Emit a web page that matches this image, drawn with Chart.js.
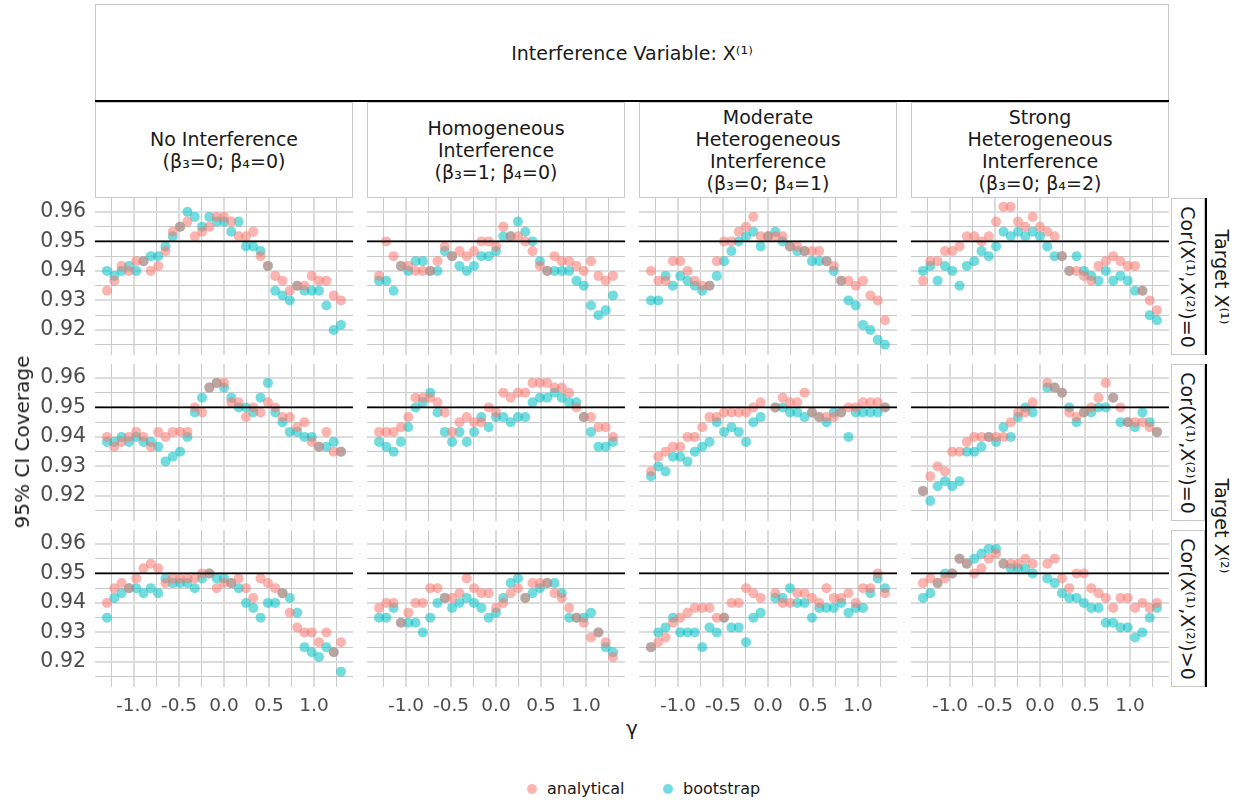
<!DOCTYPE html>
<html>
<head>
<meta charset="utf-8">
<script src="https://cdn.jsdelivr.net/npm/chart.js@4.4.1/dist/chart.umd.min.js"></script>
<style>
  body { margin: 0; background: #fff; font-family: "DejaVu Sans", sans-serif; color: #1a1a1a; }
  #wrap { position: relative; width: 1239px; height: 803px; overflow: hidden; }
  canvas { position: absolute; }
  .strip { position: absolute; box-sizing: border-box; border: 1px solid #c8c8c8;
           display: flex; align-items: center; justify-content: center; text-align: center;
           font-size: 19px; line-height: 22px; color: #1a1a1a; }
  .rot { transform: rotate(90deg); white-space: nowrap; }
  .nestline { position: absolute; background: #000; }
  .lab { position: absolute; white-space: nowrap; color: #1a1a1a; }
  .dot { position: absolute; width: 10px; height: 10px; border-radius: 50%; }
</style>
</head>
<body>
<div id="wrap"></div>
<script>
// gamma grid (x positions of the points)
const gamma = [-1.3, -1.219, -1.138, -1.056, -0.975, -0.894, -0.813, -0.731, -0.65, -0.569, -0.488,
  -0.406, -0.325, -0.244, -0.163, -0.081, 0, 0.081, 0.163, 0.244, 0.325, 0.406, 0.488, 0.569,
  0.65, 0.731, 0.813, 0.894, 0.975, 1.056, 1.138, 1.219, 1.3];

const colLabels = [
  ['No Interference', '(β\u2083=0; β\u2084=0)'],
  ['Homogeneous', 'Interference', '(β\u2083=1; β\u2084=0)'],
  ['Moderate', 'Heterogeneous', 'Interference', '(β\u2083=0; β\u2084=1)'],
  ['Strong', 'Heterogeneous', 'Interference', '(β\u2083=0; β\u2084=2)']
];
const rowLabels = ['Cor(X\u207D\u00B9\u207E,X\u207D\u00B2\u207E)=0', 'Cor(X\u207D\u00B9\u207E,X\u207D\u00B2\u207E)=0', 'Cor(X\u207D\u00B9\u207E,X\u207D\u00B2\u207E)>0'];
const targetLabels = ['Target X\u207D\u00B9\u207E', 'Target X\u207D\u00B2\u207E'];
const seriesNames = ['analytical', 'bootstrap'];

// row 1: Target X(1), Cor = 0
const ana11 = [0.9333, 0.9367, 0.9417, 0.9400, 0.9433, 0.9433, 0.9400, 0.9417, 0.9467, 0.9533, 0.9550, 0.9567, 0.9517, 0.9533, 0.9550, 0.9583, 0.9583, 0.9567, 0.9517, 0.9517, 0.9533, 0.9450, 0.9417, 0.9383, 0.9367, 0.9333, 0.9350, 0.9350, 0.9383, 0.9367, 0.9367, 0.9317, 0.9300];
const boot11 = [0.9400, 0.9383, 0.9400, 0.9417, 0.9400, 0.9433, 0.9450, 0.9450, 0.9483, 0.9517, 0.9550, 0.9600, 0.9583, 0.9550, 0.9583, 0.9567, 0.9567, 0.9533, 0.9567, 0.9483, 0.9483, 0.9467, 0.9417, 0.9333, 0.9317, 0.9300, 0.9350, 0.9333, 0.9333, 0.9333, 0.9283, 0.9200, 0.9217];
const ana12 = [0.9383, 0.9500, 0.9450, 0.9417, 0.9417, 0.9400, 0.9400, 0.9400, 0.9433, 0.9483, 0.9450, 0.9467, 0.9450, 0.9467, 0.9500, 0.9500, 0.9483, 0.9550, 0.9517, 0.9517, 0.9500, 0.9467, 0.9417, 0.9400, 0.9450, 0.9433, 0.9433, 0.9417, 0.9400, 0.9433, 0.9383, 0.9367, 0.9383];
const boot12 = [0.9367, 0.9367, 0.9333, 0.9417, 0.9400, 0.9433, 0.9433, 0.9400, 0.9400, 0.9467, 0.9450, 0.9417, 0.9400, 0.9417, 0.9450, 0.9450, 0.9467, 0.9517, 0.9517, 0.9567, 0.9533, 0.9500, 0.9433, 0.9400, 0.9400, 0.9400, 0.9400, 0.9367, 0.9350, 0.9283, 0.9250, 0.9267, 0.9317];
const ana13 = [0.9400, 0.9367, 0.9367, 0.9433, 0.9433, 0.9400, 0.9367, 0.9350, 0.9350, 0.9433, 0.9500, 0.9500, 0.9533, 0.9550, 0.9583, 0.9517, 0.9517, 0.9517, 0.9517, 0.9483, 0.9483, 0.9467, 0.9467, 0.9467, 0.9433, 0.9417, 0.9367, 0.9367, 0.9350, 0.9367, 0.9317, 0.9300, 0.9233];
const boot13 = [0.9300, 0.9300, 0.9383, 0.9350, 0.9383, 0.9367, 0.9350, 0.9333, 0.9350, 0.9383, 0.9433, 0.9467, 0.9500, 0.9517, 0.9533, 0.9483, 0.9517, 0.9533, 0.9500, 0.9483, 0.9467, 0.9467, 0.9433, 0.9433, 0.9433, 0.9400, 0.9367, 0.9300, 0.9283, 0.9217, 0.9200, 0.9167, 0.9150];
const ana14 = [0.9367, 0.9433, 0.9433, 0.9467, 0.9467, 0.9483, 0.9517, 0.9517, 0.9500, 0.9517, 0.9567, 0.9617, 0.9617, 0.9567, 0.9550, 0.9583, 0.9550, 0.9533, 0.9517, 0.9450, 0.9400, 0.9400, 0.9383, 0.9367, 0.9417, 0.9433, 0.9450, 0.9433, 0.9417, 0.9417, 0.9333, 0.9300, 0.9267];
const boot14 = [0.9400, 0.9417, 0.9367, 0.9417, 0.9400, 0.9350, 0.9417, 0.9433, 0.9467, 0.9450, 0.9483, 0.9533, 0.9517, 0.9533, 0.9517, 0.9533, 0.9517, 0.9483, 0.9450, 0.9450, 0.9400, 0.9450, 0.9400, 0.9383, 0.9367, 0.9400, 0.9367, 0.9383, 0.9367, 0.9333, 0.9333, 0.9250, 0.9233];

// row 2: Target X(2), Cor = 0
const ana21 = [0.9400, 0.9367, 0.9383, 0.9400, 0.9417, 0.9400, 0.9367, 0.9417, 0.9400, 0.9417, 0.9417, 0.9417, 0.9500, 0.9483, 0.9567, 0.9583, 0.9583, 0.9517, 0.9517, 0.9467, 0.9500, 0.9483, 0.9517, 0.9500, 0.9467, 0.9467, 0.9433, 0.9450, 0.9383, 0.9367, 0.9417, 0.9350, 0.9350];
const boot21 = [0.9383, 0.9383, 0.9400, 0.9383, 0.9400, 0.9383, 0.9383, 0.9367, 0.9317, 0.9333, 0.9350, 0.9400, 0.9483, 0.9533, 0.9567, 0.9583, 0.9567, 0.9533, 0.9500, 0.9500, 0.9483, 0.9533, 0.9583, 0.9483, 0.9450, 0.9417, 0.9417, 0.9400, 0.9400, 0.9367, 0.9367, 0.9383, 0.9350];
const ana22 = [0.9417, 0.9417, 0.9417, 0.9433, 0.9467, 0.9533, 0.9533, 0.9533, 0.9517, 0.9483, 0.9417, 0.9450, 0.9467, 0.9450, 0.9450, 0.9500, 0.9483, 0.9550, 0.9533, 0.9550, 0.9550, 0.9583, 0.9583, 0.9583, 0.9567, 0.9567, 0.9550, 0.9500, 0.9467, 0.9467, 0.9433, 0.9433, 0.9400];
const boot22 = [0.9383, 0.9367, 0.9350, 0.9383, 0.9433, 0.9500, 0.9517, 0.9550, 0.9483, 0.9417, 0.9383, 0.9417, 0.9383, 0.9417, 0.9467, 0.9433, 0.9467, 0.9467, 0.9450, 0.9467, 0.9467, 0.9517, 0.9533, 0.9533, 0.9550, 0.9533, 0.9517, 0.9517, 0.9467, 0.9417, 0.9367, 0.9367, 0.9383];
const ana23 = [0.9283, 0.9333, 0.9350, 0.9367, 0.9367, 0.9400, 0.9400, 0.9433, 0.9467, 0.9467, 0.9483, 0.9483, 0.9483, 0.9483, 0.9500, 0.9517, null, 0.9500, 0.9533, 0.9517, 0.9517, 0.9550, 0.9483, 0.9467, 0.9467, 0.9467, 0.9483, 0.9500, 0.9500, 0.9517, 0.9517, 0.9517, 0.9500];
const boot23 = [0.9267, 0.9300, 0.9283, 0.9333, 0.9333, 0.9317, 0.9350, 0.9367, 0.9383, 0.9450, 0.9417, 0.9433, 0.9417, 0.9383, 0.9450, 0.9467, null, 0.9500, 0.9500, 0.9483, 0.9483, 0.9467, 0.9483, 0.9467, 0.9450, 0.9483, 0.9483, 0.9400, 0.9483, 0.9483, 0.9483, 0.9483, 0.9500];
const ana24 = [0.9217, 0.9267, 0.9300, 0.9283, 0.9350, 0.9350, 0.9383, 0.9400, 0.9400, 0.9400, 0.9400, 0.9400, 0.9450, 0.9483, 0.9483, 0.9517, null, 0.9583, 0.9567, 0.9550, 0.9483, 0.9467, 0.9483, 0.9500, 0.9533, 0.9583, 0.9533, 0.9500, 0.9450, 0.9450, 0.9450, 0.9433, 0.9417];
const boot24 = [0.9217, 0.9183, 0.9233, 0.9250, 0.9233, 0.9250, 0.9350, 0.9350, 0.9367, 0.9400, 0.9383, 0.9433, 0.9400, 0.9467, 0.9500, 0.9483, null, 0.9567, 0.9567, 0.9550, 0.9500, 0.9450, 0.9483, 0.9483, 0.9500, 0.9500, 0.9533, 0.9450, 0.9450, 0.9433, 0.9483, 0.9450, 0.9417];

// row 3: Target X(2), Cor > 0
const ana31 = [0.9400, 0.9450, 0.9467, 0.9450, 0.9483, 0.9517, 0.9533, 0.9517, 0.9467, 0.9483, 0.9483, 0.9483, 0.9483, 0.9500, 0.9500, 0.9450, 0.9467, 0.9467, 0.9483, 0.9450, 0.9417, 0.9483, 0.9467, 0.9450, 0.9433, 0.9367, 0.9317, 0.9300, 0.9300, 0.9267, 0.9300, 0.9233, 0.9267];
const boot31 = [0.9350, 0.9417, 0.9433, 0.9450, 0.9450, 0.9433, 0.9450, 0.9433, 0.9483, 0.9467, 0.9467, 0.9467, 0.9450, 0.9483, 0.9500, 0.9483, 0.9483, 0.9467, 0.9450, 0.9400, 0.9383, 0.9350, 0.9400, 0.9400, 0.9433, 0.9417, 0.9367, 0.9250, 0.9233, 0.9217, 0.9250, 0.9233, 0.9167];
const ana32 = [0.9383, 0.9400, 0.9400, 0.9333, 0.9367, 0.9400, 0.9400, 0.9450, 0.9450, 0.9417, 0.9417, 0.9433, 0.9483, 0.9450, 0.9433, 0.9433, 0.9383, 0.9400, 0.9433, 0.9450, 0.9417, 0.9467, 0.9467, 0.9467, 0.9433, 0.9417, 0.9383, 0.9350, 0.9333, 0.9283, 0.9300, 0.9267, 0.9217];
const boot32 = [0.9350, 0.9350, 0.9383, 0.9333, 0.9333, 0.9333, 0.9300, 0.9350, 0.9400, 0.9417, 0.9383, 0.9400, 0.9417, 0.9400, 0.9383, 0.9350, 0.9367, 0.9417, 0.9467, 0.9483, 0.9417, 0.9433, 0.9450, 0.9467, 0.9467, 0.9433, 0.9350, 0.9350, 0.9350, 0.9367, 0.9300, 0.9250, 0.9233];
const ana33 = [0.9250, 0.9267, 0.9283, 0.9333, 0.9350, 0.9367, 0.9383, 0.9383, 0.9383, 0.9350, 0.9350, 0.9400, 0.9400, 0.9450, 0.9433, 0.9417, null, 0.9433, 0.9400, 0.9400, 0.9433, 0.9433, 0.9417, 0.9400, 0.9450, 0.9417, 0.9417, 0.9433, 0.9400, 0.9450, 0.9450, 0.9500, 0.9433];
const boot33 = [0.9250, 0.9300, 0.9317, 0.9350, 0.9300, 0.9300, 0.9300, 0.9250, 0.9317, 0.9300, 0.9350, 0.9317, 0.9317, 0.9267, 0.9350, 0.9367, null, 0.9417, 0.9417, 0.9450, 0.9400, 0.9400, 0.9350, 0.9383, 0.9383, 0.9383, 0.9400, 0.9367, 0.9383, 0.9383, 0.9433, 0.9483, 0.9450];
const ana34 = [0.9467, 0.9483, 0.9467, 0.9483, 0.9500, 0.9550, 0.9533, 0.9500, 0.9517, 0.9550, 0.9567, 0.9533, 0.9533, 0.9533, 0.9550, 0.9533, null, 0.9533, 0.9550, 0.9483, 0.9450, 0.9500, 0.9500, 0.9450, 0.9433, 0.9417, 0.9383, 0.9417, 0.9417, 0.9383, 0.9400, 0.9383, 0.9400];
const boot34 = [0.9417, 0.9433, 0.9467, 0.9500, 0.9500, 0.9550, 0.9533, 0.9550, 0.9567, 0.9583, 0.9583, 0.9533, 0.9517, 0.9517, 0.9517, 0.9500, null, 0.9483, 0.9467, 0.9433, 0.9417, 0.9417, 0.9400, 0.9383, 0.9383, 0.9333, 0.9333, 0.9317, 0.9317, 0.9283, 0.9300, 0.9350, 0.9383];

const xTicks = [-1.25, -1, -0.75, -0.5, -0.25, 0, 0.25, 0.5, 0.75, 1, 1.25];
const yTicks = [0.915, 0.92, 0.925, 0.93, 0.935, 0.94, 0.945, 0.95, 0.955, 0.96];
const nominal = 0.95;

const panels = [
  [ana11, boot11], [ana12, boot12], [ana13, boot13], [ana14, boot14],
  [ana21, boot21], [ana22, boot22], [ana23, boot23], [ana24, boot24],
  [ana31, boot31], [ana32, boot32], [ana33, boot33], [ana34, boot34]
];

const X_MIN = -1.4333, X_MAX = 1.4333, Y_MIN = 0.9115, Y_MAX = 0.9647;
const colLeft = [95, 367, 639, 911], rowTop = [198, 364, 530];
const PW = 258, PH = 157;
const YAXIS_W = 62, XAXIS_H = 34;
const RED = 'rgba(248,118,109,0.55)', CYAN = 'rgba(0,191,196,0.55)';

const wrap = document.getElementById('wrap');

function el(tag, cls, style, html) {
  const e = document.createElement(tag);
  if (cls) e.className = cls;
  Object.assign(e.style, style);
  if (html !== undefined) e.innerHTML = html;
  wrap.appendChild(e);
  return e;
}

const isMult = (v, step) => Math.abs(v / step - Math.round(v / step)) < 1e-6;
const noPad = a => { a.paddingLeft = 0; a.paddingRight = 0; a.paddingTop = 0; a.paddingBottom = 0; };

function makePanel(r, c) {
  const [ana, boot] = panels[r * 4 + c];
  const showY = c === 0, showX = r === 2;
  const cv = document.createElement('canvas');
  const w = PW + (showY ? YAXIS_W : 0), h = PH + (showX ? XAXIS_H : 0);
  cv.width = w; cv.height = h;
  cv.style.left = (colLeft[c] - (showY ? YAXIS_W : 0)) + 'px';
  cv.style.top = rowTop[r] + 'px';
  cv.style.width = w + 'px'; cv.style.height = h + 'px';
  wrap.appendChild(cv);

  const pts = arr => gamma.map((g, i) => ({ x: g, y: arr[i] })).filter(p => p.y !== null);

  new Chart(cv, {
    type: 'scatter',
    data: {
      datasets: [
        { type: 'line', data: [{ x: X_MIN, y: nominal }, { x: X_MAX, y: nominal }],
          borderColor: '#000', borderWidth: 1.8, pointRadius: 0, showLine: true, order: 0 },
        { label: seriesNames[0], data: pts(ana), backgroundColor: RED, borderWidth: 0, pointRadius: 5, order: 1 },
        { label: seriesNames[1], data: pts(boot), backgroundColor: CYAN, borderWidth: 0, pointRadius: 5, order: 2 }
      ]
    },
    options: {
      responsive: false, animation: false, devicePixelRatio: 1,
      layout: { padding: 0, autoPadding: false },
      plugins: { legend: { display: false }, tooltip: { enabled: false } },
      scales: {
        x: {
          type: 'linear', min: X_MIN, max: X_MAX,
          afterBuildTicks: a => { a.ticks = xTicks.map(v => ({ value: v })); },
          afterFit: a => { a.height = showX ? XAXIS_H : 0; noPad(a); },
          border: { display: false },
          grid: { drawTicks: false,
            color: ctx => isMult(ctx.tick.value, 0.5) ? '#dcdcdc' : '#c9c9c9',
            lineWidth: ctx => isMult(ctx.tick.value, 0.5) ? 2 : 1 },
          ticks: { display: showX, padding: 8, color: '#4d4d4d', maxRotation: 0, autoSkip: false,
            font: { family: 'DejaVu Sans', size: 18.5 },
            callback: v => isMult(v, 0.5) ? v.toFixed(1) : '' }
        },
        y: {
          type: 'linear', min: Y_MIN, max: Y_MAX,
          afterBuildTicks: a => { a.ticks = yTicks.map(v => ({ value: v })); },
          afterFit: a => { a.width = showY ? YAXIS_W : 0; noPad(a); },
          border: { display: false },
          grid: { drawTicks: false,
            color: ctx => isMult(ctx.tick.value, 0.01) ? '#dcdcdc' : '#c9c9c9',
            lineWidth: ctx => isMult(ctx.tick.value, 0.01) ? 2 : 1 },
          ticks: { display: showY, padding: 9, color: '#4d4d4d', autoSkip: false,
            font: { family: 'DejaVu Sans', size: 20.5 },
            callback: v => isMult(v, 0.01) ? v.toFixed(2) : '' }
        }
      }
    }
  });
}

for (let r = 0; r < 3; r++) for (let c = 0; c < 4; c++) makePanel(r, c);

// top strip
el('div', 'strip', { left: '95px', top: '4px', width: (colLeft[3] + PW - 95) + 'px', height: '97px' },
  'Interference Variable: X\u207D\u00B9\u207E');
el('div', 'nestline', { left: '95px', top: '100px', width: (colLeft[3] + PW - 95) + 'px', height: '2px' });

// column strips
colLabels.forEach((lines, c) => {
  el('div', 'strip', { left: colLeft[c] + 'px', top: '102px', width: PW + 'px', height: '96px' },
    lines.join('<br>'));
});

// row strips
rowLabels.forEach((t, r) => {
  el('div', 'strip', { left: (colLeft[3] + PW + 2) + 'px', top: rowTop[r] + 'px', width: '34px', height: PH + 'px' },
    '<div class="rot">' + t + '</div>');
});
el('div', 'strip', { left: '1206px', top: rowTop[0] + 'px', width: '33px', height: PH + 'px', border: 'none' },
  '<div class="rot">' + targetLabels[0] + '</div>');
el('div', 'strip', { left: '1206px', top: rowTop[1] + 'px', width: '33px', height: (rowTop[2] + PH - rowTop[1]) + 'px', border: 'none' },
  '<div class="rot">' + targetLabels[1] + '</div>');
el('div', 'nestline', { left: '1205px', top: rowTop[0] + 'px', width: '2px', height: PH + 'px' });
el('div', 'nestline', { left: '1205px', top: rowTop[1] + 'px', width: '2px', height: (rowTop[2] + PH - rowTop[1]) + 'px' });

// axis titles
el('div', 'lab', { left: '22px', top: '442px', fontSize: '20px', transform: 'translate(-50%,-50%) rotate(-90deg)' }, '95% CI Coverage');
el('div', 'lab', { left: '632px', top: '728px', fontSize: '20px', transform: 'translate(-50%,-50%)' }, 'γ');

// legend
el('div', 'dot', { left: '527px', top: '784px', background: RED });
el('div', 'lab', { left: '547px', top: '779px', fontSize: '16px' }, seriesNames[0]);
el('div', 'dot', { left: '663px', top: '784px', background: CYAN });
el('div', 'lab', { left: '683px', top: '779px', fontSize: '16px' }, seriesNames[1]);
</script>
</body>
</html>
